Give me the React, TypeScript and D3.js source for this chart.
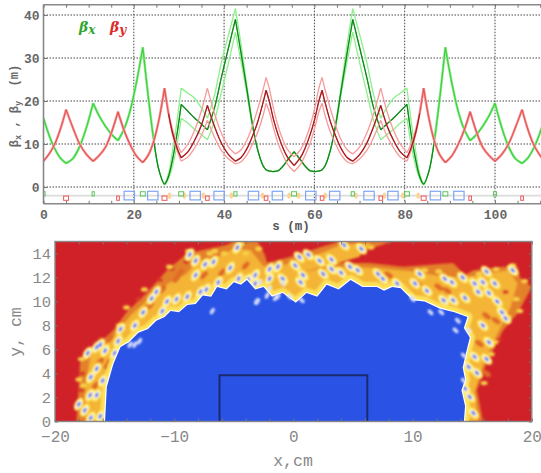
import React, { useEffect, useRef } from 'react';
import * as d3 from 'd3';

// half of the ring, the other half is its mirror image around s = 55.5
const ringLength = 111;
const halfS = [0, 1.25, 2.5, 3.75, 5, 6.5, 8, 9.5, 11, 12.4, 13.75, 15.1, 16.5, 17.9, 19.25, 20.6, 22, 23.2, 24.4, 25.6, 26.8, 27.7, 28.6, 29.6, 30.5, 32, 33.4, 34.9, 36.3, 37.9, 39.4, 41, 42.5, 43.7, 45, 46.2, 47.4, 48.6, 49.3, 50, 51, 52, 53, 54, 55.5];
const betaX = [16, 12, 8.9, 6.7, 5.5, 6.6, 9.4, 13.8, 19.5, 16.4, 14.1, 12.2, 10.8, 13.6, 18, 24.4, 32.5, 21, 11, 3.8, 0.7, 2.5, 6.5, 12.5, 19.2, 17.6, 16.1, 14.7, 13.3, 18.5, 25.5, 32.5, 39, 31.5, 23, 15, 8.8, 5, 4, 3.7, 3.6, 3.8, 4.8, 6.2, 8.2];
const betaXUpper = [...betaX.slice(0, 20), 0.9, 3.2, 8.5, 15.5, 23, 21.8, 20.7, 18.5, 16, 21.5, 29, 35.5, 41.5, 33.5, 24, 15.5, ...betaX.slice(36)];
const betaXLower = [...betaX.slice(0, 20), 0.5, 2, 5, 10, 16, 14.8, 13.5, 12.2, 11, 15.5, 22, 29, 36, 29.5, 22, 14.5, ...betaX.slice(36)];
const betaY = [6, 7.7, 10, 13.5, 18, 13.8, 10, 7.6, 6, 7.4, 9.3, 12.8, 17.5, 13, 9.7, 7.2, 5.7, 7.4, 10.6, 15.8, 23, 17, 12.5, 9, 6.8, 8.2, 10.7, 14.2, 19, 14, 10.2, 7.5, 6, 6.8, 8.8, 11.6, 15, 19.5, 22.5, 20, 15.5, 12, 9.2, 7, 5];
const betaYUpper = [...betaY.slice(0, 21), 17.5, 13.3, 10, 8, 10, 13, 17.5, 23, 17, 12.5, 9.3, 7.7, 8.6, 10.8, 14, 18, 22.5, 25.5, 23, 18, 14, 11, 8.8, 7];
const betaYLower = [...betaY.slice(0, 21), 16.7, 12, 8.4, 6, 7, 9, 11.8, 15.5, 11.5, 8.5, 6.5, 5.4, 5.8, 7.4, 9.8, 12.6, 16.5, 19.5, 17.5, 13.5, 10, 7.5, 5.4, 3.6];
// quadrupole centres, where the curves have a corner
const xCorners = [5, 11, 16.5, 22, 30.5, 36.3, 42.5, 55.5];
const yCorners = [5, 11, 16.5, 22, 26.8, 30.5, 36.3, 42.5, 49.3, 55.5];

const dipoleS = [19, 24.2, 33.6, 38.9, 46.5, 51.8, 59.2, 64.5, 72.1, 77.4, 86.8, 92];
const focusS = [0, 11, 22, 30.5, 42.5, 55.5, 68.5, 80.5, 89, 100, 111];
const focusLength = [0.7, 0.5, 1.1, 1.1, 0.7, 1.1, 0.7, 1.1, 1.1, 0.7, 0.7];
const defocusS = [5, 16.5, 26.8, 36.3, 49.3, 61.7, 74.7, 84.2, 94.5, 106];
const defocusLength = [1.1, 0.6, 1.1, 0.8, 0.8, 0.8, 0.8, 1.1, 0.6, 0.6];
const sextupoleS = [27.9, 31.2, 35.4, 41.6, 48.5, 54.4, 56.5, 62.4, 69.2, 75.5, 79.6, 83];

// aperture scan, cm
const stableEdge: [number, number][] = [[-15.8, 0], [-15.65, 2.9], [-15.1, 4.8], [-14.5, 6.2], [-13.8, 6.6], [-13, 7.4], [-12.2, 7.7], [-11.5, 8.4], [-10.8, 8.7], [-10.3, 9.2], [-9.6, 9.1], [-8.9, 9.7], [-8.2, 9.8], [-7.6, 10.5], [-6.9, 10.4], [-6.4, 11.2], [-5.6, 11], [-5, 11.6], [-4.4, 11.4], [-3.9, 11.8], [-3.2, 11], [-2.5, 11.2], [-1.8, 10.4], [-0.9, 10.7], [0.2, 9.9], [1.1, 10.7], [2, 10.4], [2.8, 11.4], [3.8, 11], [4.8, 11.8], [5.8, 11.2], [7, 11.2], [7.6, 10.9], [8.3, 11.2], [9, 11.1], [10, 10.1], [11, 10], [12.3, 9.4], [13.5, 9.1], [14.6, 8.7], [14.3, 7.8], [14.8, 7], [14.5, 5.8], [14.2, 4.5], [14.4, 3.5], [14.1, 2.6], [14.4, 1.3], [14.3, 0]];
const orangeEdge: [number, number][] = [[-18.2, 0], [-18.05, 2.1], [-17.9, 4.9], [-17.5, 5.8], [-16.2, 6.6], [-15.1, 7.6], [-14, 9.1], [-12.3, 10.7], [-10.6, 12.6], [-8.9, 14], [-7.6, 14.3], [-5.6, 14.7], [-5, 15], [-3, 15], [-2.4, 13.9], [-2.2, 13.2], [0.8, 14], [2.2, 14.5], [3.9, 15], [8.25, 15], [5.6, 14.1], [3.1, 13.4], [0.3, 12.75], [3.7, 13.2], [6.4, 13.2], [9.2, 12.9], [13.4, 13.2], [14.4, 12.2], [15.1, 12.6], [17.6, 12.9], [18.8, 12.9], [19, 12], [20, 11.2], [18.8, 9], [17.6, 7.6], [16.2, 4.9], [15.4, 2.6], [15.9, 0]];
const yellowEdge: [number, number][] = [[-17.4, 0], [-17.5, 2], [-17.2, 4.4], [-17, 5.6], [-16, 6.2], [-14.8, 7.4], [-13.6, 8.9], [-12, 10.3], [-10.5, 11.5], [-9, 12.3], [-8, 13.4], [-6.5, 13.6], [-5, 14.4], [-3.6, 14.3], [-2.6, 13], [-1.8, 12.7], [0, 13.3], [2, 13.9], [4, 14.7], [6.5, 14.9], [5.5, 13.7], [3, 13], [0.6, 12.45], [3.7, 12.9], [7, 12.8], [10, 12.5], [13, 12], [15, 12.1], [18, 12.6], [18.8, 11.5], [18.2, 9.5], [17.2, 7.5], [16, 5], [15.2, 2.5], [15.5, 0]];
const orangeSpots: [number, number][] = [[-9.5, 12.4], [-9.8, 11.9], [-12.4, 9.4], [-12, 9.7], [-15.4, 6.9], [-16.2, 5], [-15.6, 4.7], [-16.6, 3], [-15.8, 1.7], [-7.5, 12.2], [-6, 12.4], [12.9, 10.9], [12.2, 11.2], [17, 8.4], [16.2, 8.8], [16.2, 4], [15.6, 6.5], [10.5, 11.4], [8, 12.2], [-11, 11], [-4, 13]];
const redGaps: [number, number][] = [[-16.2, 6.9], [-15.4, 5], [-17.7, 4], [-17.8, 2.6], [-15.9, 2.6], [-14.6, 7.5], [-13, 10.2], [-11.2, 11.8], [-10.2, 12.7], [-9, 13.3], [17.8, 10.8], [17.2, 6.8]];
const dryYellowSpots: [number, number][] = [[-17.8, 5.2], [-18, 3.5], [-17.6, 3], [-14.6, 8], [-14, 9.5], [-12.5, 11], [-10.4, 12.9], [-8.8, 14.2], [-6.6, 14.2], [-4.4, 14.8], [18.4, 13], [19.4, 11.7], [18.7, 10.2], [19, 9.2], [18, 8.7], [16.9, 6.6], [16.6, 5.6], [16, 3.2], [-7, 14], [-5.8, 14], [-4, 14], [-2.9, 14.4], [6.5, 14.5], [17, 12.7], [15.6, 12.3], [11, 12.6], [12.2, 12.5]];
const halfBlobs: [number, number][] = [[-17.25, 5.7], [-16.5, 6.2], [-16.2, 6.4], [-15.8, 5.9], [-15, 5.7], [-14.7, 6.7], [-16.5, 4.4], [-17, 3.7], [-16, 3.4], [-17.05, 2.2], [-16.5, 2.2], [-18, 1.44], [-17.5, 0.94], [-17, 0.3], [-16.2, 0.44], [-14.5, 7.7], [-13.3, 8], [-11.9, 10.25], [-10.6, 10], [-11, 9.2], [-12.6, 9.1], [-11.5, 10.8], [-9.8, 10.2], [-8.9, 10.4], [-7.8, 10.8], [-7.3, 11], [-6.3, 11.6], [-8.2, 12.2], [-7.4, 13.1], [-6.7, 13.3], [-8.2, 13.4], [-4.7, 14.5], [-8.7, 13.9], [-5.3, 12.8], [-4.6, 11.9], [-3.8, 11.8], [-3.2, 11.5], [0.5, 13.7], [1.25, 13.9], [2.2, 13.4], [3.2, 13.5], [4.25, 14.7], [5.7, 14.4], [0.15, 13], [-1.3, 12.9], [-2, 12.7], [4.75, 12.9], [0.8, 12.2], [3.2, 12.7], [4, 12.4], [5.4, 12.6], [7.1, 12.3], [7.5, 11.9], [8.7, 11.5], [-2, 11.9], [-0.9, 11.9], [0.6, 11.6], [2.5, 12.3], [-3.2, 12.2], [10.6, 12.3], [12.7, 11.9], [13.3, 11.6], [10.2, 11.5], [11.2, 10.9], [14.2, 12], [15.2, 11.5], [15.9, 11.6], [16.9, 11.5], [18.4, 12.6], [16.2, 12.5], [14.4, 10.3], [15.5, 10.8], [16.4, 10.7], [17.1, 10], [17.8, 8.6], [17.5, 9.1], [15.9, 8], [16.4, 6.6], [15.2, 5.4], [16.2, 5.2], [14.7, 4.55], [15.4, 4.05], [14.4, 2.75], [14.8, 2.05], [15.1, 0.7], [12.6, 10.1], [9.9, 10.25], [13.4, 10.1]];
const strayBlobs: [number, number][] = [[-13.3, 6.4], [-12.9, 6.7], [-13.7, 6.4], [-6.8, 9.2], [-3.1, 10], [-2.8, 11.6], [-2, 11.1], [-0.9, 11.5], [-2.2, 10.5], [-1.3, 10.4], [-0.3, 10.4], [0.7, 10.1], [-3, 10], [-1.5, 10.3], [11.5, 9.1], [12.4, 9.1], [13.8, 8.4], [13.6, 7.6], [14.7, 7.6], [10, 10.2], [14.3, 5.5], [14.3, 3.4]];

const chamberX = [-6.2, 6.2];
const chamberY = [0, 3.85];

const W = 541;
const H = 473;
const mono = '"Liberation Mono", monospace';

const mirrored = (values: number[]) => [...values, ...values.slice(0, -1).reverse()];
const fullS = [...halfS, ...halfS.slice(0, -1).reverse().map((s) => ringLength - s)];

export default function App() {
  const ref = useRef<SVGSVGElement>(null);

  useEffect(() => {
    const svg = d3.select(ref.current);
    svg.selectAll('*').remove();
    const defs = svg.append('defs');
    defs.append('filter').attr('id', 'soft').append('feGaussianBlur').attr('stdDeviation', 1.2);
    defs.append('filter').attr('id', 'softer').append('feGaussianBlur').attr('stdDeviation', 0.95);
    defs.append('filter').attr('id', 'edge').append('feGaussianBlur').attr('stdDeviation', 0.5);

    drawLattice(svg, defs);
    drawAperture(svg, defs);
  }, []);

  return <svg ref={ref} width={W} height={H} style={{ position: 'absolute', left: 0, top: 0, background: '#fff' }} />;
}

function styleAxis(g: any, size: number, fill: string, weight: string) {
  g.select('.domain').remove();
  g.selectAll('.tick line').attr('stroke', '#777');
  g.selectAll('.tick text').attr('font-family', mono).attr('font-size', size).attr('fill', fill).attr('font-weight', weight);
}

function drawLattice(svg: any, defs: any) {
  const x = d3.scaleLinear().domain([0, ringLength]).range([43.5, 43.5 + ringLength * 4.515]);
  const y = d3.scaleLinear().domain([0, 40]).range([187, 15]);
  const top = y(42.4);
  const bottom = y(-3.9);
  const left = x(0);

  defs.append('clipPath').attr('id', 'latticeClip').append('rect').attr('x', left).attr('y', top).attr('width', W - left).attr('height', bottom - top);

  const grid = svg.append('g').attr('stroke', '#444').attr('stroke-width', 1).attr('stroke-dasharray', '1.5,1.5');
  grid.selectAll('.gx').data([20, 40, 60, 80, 100]).join('line').attr('x1', (d: number) => x(d)).attr('x2', (d: number) => x(d)).attr('y1', top).attr('y2', bottom);
  grid.selectAll('.gy').data([0, 10, 20, 30, 40]).join('line').attr('x1', left).attr('x2', W).attr('y1', (d: number) => y(d)).attr('y2', (d: number) => y(d));

  const plot = svg.append('g').attr('clip-path', 'url(#latticeClip)');

  plot.append('line').attr('x1', left).attr('x2', W).attr('y1', y(-2)).attr('y2', y(-2)).attr('stroke', '#dcdcdc').attr('stroke-width', 1.6);
  plot.selectAll('.sext').data(sextupoleS).join('ellipse').attr('cx', (d: number) => x(d)).attr('cy', y(-2)).attr('rx', 1.8).attr('ry', 3.2).attr('fill', '#fad596');
  plot.selectAll('.dip').data(dipoleS).join('rect').attr('x', (d: number) => x(d - 1.15)).attr('width', x(2.3) - x(0)).attr('y', y(-1)).attr('height', y(-3) - y(-1)).attr('fill', 'none').attr('stroke', '#7fa6f5').attr('stroke-width', 1.2);
  plot.selectAll('.foc').data(focusS).join('rect').attr('x', (d: number, i: number) => x(d - focusLength[i] / 2)).attr('width', (d: number, i: number) => x(focusLength[i]) - x(0)).attr('y', y(-1.1)).attr('height', y(-2.1) - y(-1.1)).attr('fill', 'none').attr('stroke', '#5cc65c').attr('stroke-width', 1);
  plot.selectAll('.def').data(defocusS).join('rect').attr('x', (d: number, i: number) => x(d - defocusLength[i] / 2)).attr('width', (d: number, i: number) => x(defocusLength[i]) - x(0)).attr('y', y(-2.1)).attr('height', y(-3.1) - y(-2.1)).attr('fill', 'none').attr('stroke', '#f05a5a').attr('stroke-width', 1);

  // smooth between the quadrupoles, with a corner at each of them
  const segment = d3.line().x((p) => x(p[0])).y((p) => y(p[1])).curve(d3.curveCatmullRom);
  const tracePath = (values: number[], corners: number[], from = 0, to = ringLength) => {
    const breaks = new Set([...corners, ...corners.map((s) => +(ringLength - s).toFixed(2))]);
    const pts = mirrored(values).map((v, i) => [fullS[i], v]).filter((p) => p[0] >= from && p[0] <= to);
    let run: number[][] = [];
    let d = '';
    pts.forEach((p) => {
      run.push(p);
      if (breaks.has(+p[0].toFixed(2))) {
        d += segment(run as [number, number][]);
        run = [p];
      }
    });
    if (run.length > 1) d += segment(run as [number, number][]);
    return d;
  };
  const trace = (values: number[], corners: number[], color: string, width: number, from?: number, to?: number) =>
    plot.append('path').attr('d', tracePath(values, corners, from, to)).attr('fill', 'none').attr('stroke', color).attr('stroke-width', width).attr('stroke-linejoin', 'round');

  trace(betaXUpper, xCorners, '#8cf08c', 1.3);
  trace(betaXLower, xCorners, '#8cf08c', 1.3);
  trace(betaX, xCorners, '#9cf09c', 2.6, 0, 24.4);
  trace(betaX, xCorners, '#9cf09c', 2.6, 86.6, ringLength);
  trace(betaX, xCorners, '#42d042', 1.3);
  trace(betaX, xCorners, '#157d22', 1.1, 24.4, 86.6);
  trace(betaYUpper, yCorners, '#f89a9a', 1.3);
  trace(betaYLower, yCorners, '#f89a9a', 1.3);
  trace(betaY, yCorners, '#f7aaaa', 2.6, 0, 27.7);
  trace(betaY, yCorners, '#f7aaaa', 2.6, 83.3, ringLength);
  trace(betaY, yCorners, '#e65858', 1.3);
  trace(betaY, yCorners, '#a11c22', 1.1, 27.7, 83.3);

  const frame = svg.append('g').attr('stroke', '#888').attr('stroke-width', 1.6);
  frame.append('line').attr('x1', left).attr('x2', left).attr('y1', top).attr('y2', bottom);
  frame.append('line').attr('x1', left).attr('x2', W).attr('y1', top).attr('y2', top);
  frame.append('line').attr('x1', left).attr('x2', W).attr('y1', bottom).attr('y2', bottom);

  const sTicks = d3.range(0, 115, 5);
  const bottomAxis = d3.axisBottom(x).tickValues(sTicks).tickSize(-3).tickPadding(6).tickFormat((d: any) => (d % 20 === 0 ? String(d) : ''));
  svg.append('g').attr('transform', `translate(0,${bottom})`).call(bottomAxis).call(styleAxis, 13, '#666', 'bold');
  const topAxis = d3.axisTop(x).tickValues(sTicks).tickSize(-3).tickFormat(() => '');
  svg.append('g').attr('transform', `translate(0,${top})`).call(topAxis).call(styleAxis, 12, '#666', 'bold');
  const leftAxis = d3.axisLeft(y).tickValues(d3.range(0, 42, 10)).tickSize(-4).tickPadding(4);
  svg.append('g').attr('transform', `translate(${left},0)`).call(leftAxis).call(styleAxis, 13, '#666', 'bold');

  svg.append('text').attr('x', 291).attr('y', 230).attr('text-anchor', 'middle').attr('font-family', mono).attr('font-size', 12.5).attr('font-weight', 'bold').attr('fill', '#555').text('s (m)');

  const yLabel = svg.append('text').attr('transform', 'translate(18,106) rotate(-90)').attr('text-anchor', 'middle').attr('font-family', mono).attr('font-size', 12).attr('font-weight', 'bold').attr('fill', '#666').attr('xml:space', 'preserve');
  yLabel.append('tspan').text('β');
  yLabel.append('tspan').attr('dy', 3).attr('font-size', 8.5).text('x');
  yLabel.append('tspan').attr('dy', -3).text(' , β');
  yLabel.append('tspan').attr('dy', 3).attr('font-size', 8.5).text('y');
  yLabel.append('tspan').attr('dy', -3).text('  (m)');

  const legend = (px: number, color: string, sub: string) => {
    const t = svg.append('text').attr('x', px).attr('y', 32).attr('font-family', '"DejaVu Serif", serif').attr('font-style', 'italic').attr('font-weight', 'bold').attr('font-size', 14).attr('fill', color);
    t.append('tspan').text('β');
    t.append('tspan').attr('dy', 2).attr('font-size', 12).text(sub);
  };
  legend(79, '#2fa52f', 'x');
  legend(110, '#d92b2b', 'y');
}

function drawAperture(svg: any, defs: any) {
  const x = d3.scaleLinear().domain([-20, 20]).range([55, 531.8]);
  const y = d3.scaleLinear().domain([0, 15]).range([421.5, 241.5]);
  const [x0, x1] = x.range();
  const [y0, y1] = y.range();

  defs.append('clipPath').attr('id', 'apertureClip').append('rect').attr('x', x0).attr('y', y1).attr('width', x1 - x0).attr('height', y0 - y1);

  const area = d3.line().x((d) => x(d[0])).y((d) => y(d[1])).curve(d3.curveLinearClosed);
  const plot = svg.append('g').attr('clip-path', 'url(#apertureClip)');
  plot.append('rect').attr('x', x0).attr('y', y1).attr('width', x1 - x0).attr('height', y0 - y1).attr('fill', '#d12128');

  const soft = plot.append('g').attr('filter', 'url(#soft)');
  soft.append('path').attr('d', area(orangeEdge)).attr('fill', '#e3802c');
  soft.append('path').attr('d', area(yellowEdge)).attr('fill', '#f4b436');
  soft.selectAll('.spot').data(orangeSpots).join('ellipse').attr('cx', (d: number[]) => x(d[0])).attr('cy', (d: number[]) => y(d[1])).attr('rx', 5).attr('ry', 2.6).attr('transform', (d: number[]) => `rotate(${d[0] < 0 ? -50 : 35} ${x(d[0])} ${y(d[1])})`).attr('fill', '#e06a28');
  soft.selectAll('.gap').data(redGaps).join('ellipse').attr('cx', (d: number[]) => x(d[0])).attr('cy', (d: number[]) => y(d[1])).attr('rx', 3).attr('ry', 2).attr('fill', '#d83a28');
  soft.selectAll('.dry').data(dryYellowSpots).join('ellipse').attr('cx', (d: number[]) => x(d[0])).attr('cy', (d: number[]) => y(d[1])).attr('rx', 3.4).attr('ry', 2.2).attr('fill', '#f8cf45');
  // bright ridge hugging the stable region
  soft.append('path').attr('d', area(stableEdge)).attr('fill', 'none').attr('stroke', '#fce25a').attr('stroke-width', 10).attr('stroke-linejoin', 'round');

  const blobs = (g: any, data: [number, number][], color: string, rx: number, ry: number) =>
    g.append('g').selectAll('ellipse').data(data).join('ellipse')
      .attr('cx', (d: number[]) => x(d[0])).attr('cy', (d: number[]) => y(d[1]))
      .attr('rx', rx).attr('ry', ry)
      .attr('transform', (d: number[]) => `rotate(${d[0] < -1 ? -60 : 45} ${x(d[0])} ${y(d[1])})`)
      .attr('fill', color);

  const speck = plot.append('g').attr('filter', 'url(#softer)');
  blobs(speck, halfBlobs, '#ffec68', 7, 4);
  blobs(speck, halfBlobs, '#fffdf0', 4.4, 2.4);
  blobs(speck, halfBlobs, '#3a5cee', 2.8, 1.4);

  const core = plot.append('g').attr('filter', 'url(#edge)');
  core.append('path').attr('d', area(stableEdge)).attr('fill', '#2b52e6').attr('stroke', '#fff').attr('stroke-width', 2.4).attr('stroke-linejoin', 'round');
  core.append('path').attr('d', area(stableEdge)).attr('fill', '#2b52e6');

  const stray = plot.append('g').attr('filter', 'url(#softer)');
  blobs(stray, strayBlobs, '#f2f5ff', 3.4, 1.8);
  blobs(stray, strayBlobs, '#b0c0f5', 1.6, 0.9);

  plot.append('path')
    .attr('d', d3.line()([[x(chamberX[0]), y(chamberY[0])], [x(chamberX[0]), y(chamberY[1])], [x(chamberX[1]), y(chamberY[1])], [x(chamberX[1]), y(chamberY[0])]]))
    .attr('fill', 'none').attr('stroke', '#1b2a70').attr('stroke-width', 2);

  svg.append('rect').attr('x', x0).attr('y', y1).attr('width', x1 - x0).attr('height', y0 - y1).attr('fill', 'none').attr('stroke', '#888').attr('stroke-width', 1.4);

  const bottomAxis = d3.axisBottom(x).tickValues(d3.range(-20, 21, 2)).tickSize(-3).tickPadding(9).tickFormat((d: any) => (d % 10 === 0 ? String(d).replace('-', '−') : ''));
  svg.append('g').attr('transform', `translate(0,${y0})`).call(bottomAxis).call(styleAxis, 16, '#888', 'normal');
  const topAxis = d3.axisTop(x).tickValues(d3.range(-20, 21, 2)).tickSize(-3).tickFormat(() => '');
  svg.append('g').attr('transform', `translate(0,${y1})`).call(topAxis).call(styleAxis, 12, '#888', 'normal');
  const leftAxis = d3.axisLeft(y).tickValues(d3.range(0, 15, 2)).tickSize(-3).tickPadding(4);
  svg.append('g').attr('transform', `translate(${x0},0)`).call(leftAxis).call(styleAxis, 15.5, '#888', 'normal');
  const rightAxis = d3.axisRight(y).tickValues(d3.range(0, 15, 1)).tickSize(-3).tickFormat(() => '');
  svg.append('g').attr('transform', `translate(${x1},0)`).call(rightAxis).call(styleAxis, 12, '#888', 'normal');

  svg.append('text').attr('x', 293).attr('y', 466).attr('text-anchor', 'middle').attr('font-family', mono).attr('font-size', 16.5).attr('fill', '#888').text('x,cm');
  svg.append('text').attr('transform', 'translate(21,332) rotate(-90)').attr('text-anchor', 'middle').attr('font-family', mono).attr('font-size', 16.5).attr('fill', '#888').text('y, cm');
}
